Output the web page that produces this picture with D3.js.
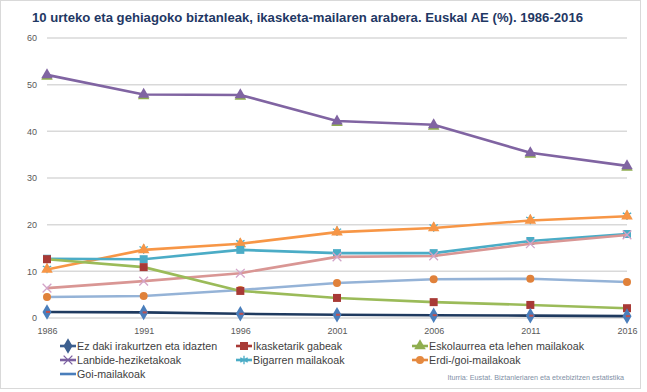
<!DOCTYPE html>
<html>
<head>
<meta charset="utf-8">
<script src="https://cdn.jsdelivr.net/npm/d3@7"></script>
<style>
  body { margin: 0; background: #fff; }
  text { font-family: "Liberation Sans", Arial, sans-serif; }
</style>
</head>
<body>
<div id="chart"></div>
<script>
// data
var years = [1986, 1991, 1996, 2001, 2006, 2011, 2016]
var yTicks = [0, 10, 20, 30, 40, 50, 60]

var ezDaki = [1.3, 1.2, 0.9, 0.7, 0.6, 0.5, 0.4]
var ikasketarikGabe = [12.6, 10.9, 5.8, 4.3, 3.4, 2.8, 2.1]
var eskolaurrea = [52.1, 47.9, 47.8, 42.2, 41.4, 35.4, 32.6]
var lanbide = [6.4, 7.9, 9.6, 13.1, 13.3, 15.9, 17.8]
var bigarren = [12.7, 12.6, 14.6, 13.9, 13.9, 16.5, 18.0]
var erdiGoi = [4.5, 4.7, 6.0, 7.5, 8.3, 8.4, 7.7]
var goi = [10.4, 14.6, 15.9, 18.4, 19.3, 20.9, 21.8]

var seriesNames = [
    "Ez daki irakurtzen eta idazten",
    "Ikasketarik gabeak",
    "Eskolaurrea eta lehen mailakoak",
    "Lanbide-heziketakoak",
    "Bigarren mailakoak",
    "Erdi-/goi-mailakoak",
    "Goi-mailakoak"
]
var seriesValues = [ezDaki, ikasketarikGabe, eskolaurrea, lanbide, bigarren, erdiGoi, goi]

// the plotted lines (colours as they come out in the original workbook)
var lineColors = ["#1f3a5f", "#9bbb59", "#8064a2", "#d99694", "#4bacc6", "#95b3d7", "#f79646"]
var markerColors = ["#4a7ebb", "#a83a36", "#8064a2", "#d3a4c8", "#4bacc6", "#e0813a", "#f79646"]
var markerShapes = ["diamond", "square", "triangle", "cross", "square", "circle", "triangle"]

// legend swatches
var legendColors = ["#3c5f8f", "#a83a36", "#8fae4f", "#7b5fa0", "#4bacc6", "#e5893f", "#4a7ebb"]
var legendShapes = ["diamond", "square", "triangle", "x", "star", "circle", "plus"]

var dimensions = {
    width: 647,
    height: 392,
    margin: { top: 38, bottom: 74, left: 47, right: 20 }
}

var svg = d3.select("#chart")
    .append("svg")
    .attr("width", dimensions.width)
    .attr("height", dimensions.height)

// chart border
svg.append("rect")
    .attr("x", 0.5).attr("y", 0.5)
    .attr("width", 640).attr("height", 388)
    .attr("fill", "#fff")
    .attr("stroke", "#d9d9d9")

svg.append("text")
    .attr("x", 32)
    .attr("y", 22)
    .attr("font-size", 13)
    .attr("font-weight", "bold")
    .attr("fill", "#1f3864")
    .attr("textLength", 551)
    .attr("lengthAdjust", "spacingAndGlyphs")
    .text("10 urteko eta gehiagoko biztanleak, ikasketa-mailaren arabera. Euskal AE (%). 1986-2016")

var x = d3.scalePoint()
    .domain(years)
    .range([dimensions.margin.left, dimensions.width - dimensions.margin.right])

var y = d3.scaleLinear()
    .domain([0, 60])
    .range([dimensions.height - dimensions.margin.bottom, dimensions.margin.top])

// gridlines
svg.append("g")
    .selectAll("line")
    .data(yTicks)
    .enter().append("line")
    .attr("x1", dimensions.margin.left)
    .attr("x2", dimensions.width - dimensions.margin.right)
    .attr("y1", function (d) { return y(d) })
    .attr("y2", function (d) { return y(d) })
    .attr("stroke", "#d9d9d9")
    .attr("stroke-width", 1.5)

// Y axis
var yAxis = svg.append("g")
    .attr("transform", "translate(" + dimensions.margin.left + ",0)")
    .call(d3.axisLeft(y).tickValues(yTicks).tickSize(0).tickPadding(10))
yAxis.select(".domain").remove()
yAxis.selectAll("text").attr("font-size", 9).attr("fill", "#595959")

// X axis
var xAxis = svg.append("g")
    .attr("transform", "translate(0," + y(0) + ")")
    .call(d3.axisBottom(x).tickSize(0).tickPadding(10))
xAxis.select(".domain").remove()
xAxis.selectAll("text").attr("font-size", 9).attr("fill", "#595959")

var line = d3.line()
    .x(function (d, i) { return x(years[i]) })
    .y(function (d) { return y(d) })

function drawMarker(g, shape, cx, cy, color, s) {
    if (shape == "diamond") {
        g.append("path").attr("d", d3.symbol().type(d3.symbolDiamond).size(s * s * 1.1)())
            .attr("transform", "translate(" + cx + "," + cy + ")").attr("fill", color)
    } else if (shape == "square") {
        g.append("rect").attr("x", cx - s / 2).attr("y", cy - s / 2)
            .attr("width", s).attr("height", s).attr("fill", color)
    } else if (shape == "triangle") {
        g.append("path").attr("d", d3.symbol().type(d3.symbolTriangle).size(s * s * 0.9)())
            .attr("transform", "translate(" + cx + "," + cy + ")").attr("fill", color)
    } else if (shape == "circle") {
        g.append("circle").attr("cx", cx).attr("cy", cy).attr("r", s / 2).attr("fill", color)
    } else if (shape == "cross" || shape == "x") {
        g.append("path").attr("d", d3.symbol().type(d3.symbolX).size(s * s * 0.8)())
            .attr("transform", "translate(" + cx + "," + cy + ")")
            .attr("fill", "none").attr("stroke", color).attr("stroke-width", 1.3)
    } else if (shape == "star") {
        g.append("path").attr("d", d3.symbol().type(d3.symbolAsterisk).size(s * s * 0.8)())
            .attr("transform", "translate(" + cx + "," + cy + ")")
            .attr("fill", "none").attr("stroke", color).attr("stroke-width", 1.3)
    } else if (shape == "plus") {
        g.append("path").attr("d", d3.symbol().type(d3.symbolPlus).size(s * s * 0.5)())
            .attr("transform", "translate(" + cx + "," + cy + ")").attr("fill", color)
    }
}

// lines, drawn so the bottom series stay visible
var plotOrder = [6, 5, 4, 3, 1, 2, 0]
var plot = svg.append("g")
plotOrder.forEach(function (k) {
    var g = plot.append("g")
    g.append("path")
        .datum(seriesValues[k])
        .attr("d", line)
        .attr("fill", "none")
        .attr("stroke", lineColors[k])
        .attr("stroke-width", 2.6)
        .attr("stroke-linejoin", "round")
    seriesValues[k].forEach(function (v, i) {
        var cx = x(years[i]), cy = y(v)
        if (k == 2) drawMarker(g, "triangle", cx, cy + 1.5, "#8fae4f", 8)
        if (k == 6) drawMarker(g, "star", cx, cy - 1, "#4bacc6", 9)
        drawMarker(g, markerShapes[k], cx, cy, markerColors[k], 8)
        if (k == 0) g.append("rect").attr("x", cx - 1).attr("y", cy - 1)
            .attr("width", 4).attr("height", 2).attr("fill", "#c0504d")
    })
})

// legend
var legendX = [60, 236, 412]
var legendY = [346, 360, 374]
var legend = svg.append("g")
seriesNames.forEach(function (name, k) {
    var lx = legendX[k % 3], ly = legendY[Math.floor(k / 3)]
    legend.append("line")
        .attr("x1", lx).attr("x2", lx + 16)
        .attr("y1", ly).attr("y2", ly)
        .attr("stroke", legendColors[k]).attr("stroke-width", 2.6)
    drawMarker(legend, legendShapes[k], lx + 8, ly, legendColors[k], 8)
    legend.append("text")
        .attr("x", lx + 17)
        .attr("y", ly + 4)
        .attr("font-size", 10.7)
        .attr("fill", "#404040")
        .text(name)
})

svg.append("text")
    .attr("x", 624)
    .attr("y", 380)
    .attr("text-anchor", "end")
    .attr("font-size", 7.2)
    .attr("fill", "#7f8fa6")
    .text("Iturria: Eustat. Biztanleriaren eta etxebizitzen estatistika")
</script>
</body>
</html>
